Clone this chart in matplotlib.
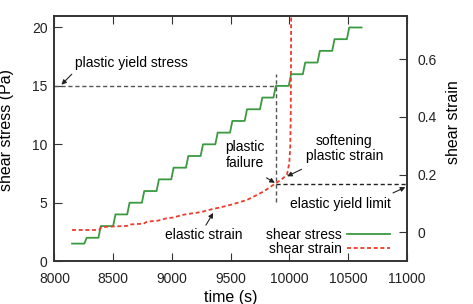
import numpy as np
import matplotlib
matplotlib.use('Agg')
import matplotlib.pyplot as plt

plt.rcParams['font.family'] = ['Liberation Sans', 'DejaVu Sans']
plt.rcParams['font.size'] = 10

# shear stress: staircase (levels and the times at which each rise starts)
stress_start = 8150
stress_end = 10615
stress_levels = [1.5, 2, 3, 4, 5, 6, 7, 8, 9, 10, 11, 12, 13, 14, 15, 16, 17, 18, 19, 20]
rise_times = [8255, 8375, 8500, 8620, 8745, 8870, 8995, 9120, 9245, 9370, 9495,
              9620, 9750, 9865, 9995, 10115, 10240, 10365, 10490]
ramp = 20

# shear strain
strain_t = [8150, 8380, 8400, 8500, 8620, 8640, 8760, 8790, 8880, 8960, 9010, 9090,
            9130, 9250, 9350, 9400, 9500, 9640, 9780, 9885, 9940, 9980, 10000,
            10008, 10012, 10014, 10016]
strain_v = [0.008, 0.008, 0.018, 0.020, 0.022, 0.027, 0.030, 0.037, 0.040, 0.049,
            0.051, 0.060, 0.063, 0.070, 0.081, 0.085, 0.095, 0.112, 0.141, 0.170,
            0.185, 0.200, 0.240, 0.300, 0.400, 0.550, 0.800]

yield_stress = 15
failure_time = 9885
yield_strain = 0.167

# build staircase path
st_x = [stress_start]
st_y = [stress_levels[0]]
for i, t in enumerate(rise_times):
    st_x += [t, t + ramp]
    st_y += [stress_levels[i], stress_levels[i + 1]]
st_x.append(stress_end)
st_y.append(stress_levels[-1])

fig = plt.figure(figsize=(4.73, 3.04), dpi=100)
ax = fig.add_axes([0.115, 0.141, 0.745, 0.807])
ax2 = ax.twinx()

green = '#3a9a3f'
red = '#ee3b2b'
gray = '#555555'

ax.plot(st_x, st_y, color=green, lw=1.3, label='shear stress')
ax2.plot(strain_t, strain_v, color=red, lw=1.3, dashes=(2.2, 1.5), label='shear strain')

ax.plot([8000, failure_time], [yield_stress, yield_stress], color=gray, lw=1, dashes=(3, 2))
ax.plot([failure_time, failure_time], [5.1, 16.0], color=gray, lw=1, dashes=(3, 2))
ax2.plot([failure_time, 11000], [yield_strain, yield_strain], color='#222222', lw=1, dashes=(3, 2))

ax.set_xlim(8000, 11000)
ax.set_ylim(0, 21)
ax2.set_ylim(-0.1, 0.75)
ax.set_xticks(np.arange(8000, 11001, 500))
ax.set_yticks([0, 5, 10, 15, 20])
ax2.set_yticks([0, 0.2, 0.4, 0.6])
ax2.set_yticklabels(['0', '0.2', '0.4', '0.6'])

ax.tick_params(direction='in', length=6, top=True, right=False, colors='#333333',
               labelcolor='#222222', pad=5)
ax.tick_params(axis='x', pad=8)
ax2.tick_params(direction='in', length=6, colors='#333333', labelcolor='#222222', pad=8)
for a in (ax, ax2):
    for s in a.spines.values():
        s.set_color('#333333')
        s.set_linewidth(1.2)

ax.set_xlabel('time (s)', fontsize=11.5, labelpad=3)
ax.set_ylabel('shear stress (Pa)', fontsize=11.5)
ax2.set_ylabel('shear strain', fontsize=11.5)
ax.yaxis.set_label_coords(-0.115, 0.534)
ax2.yaxis.set_label_coords(1.112, 0.567)

arw = dict(arrowstyle='-|>', color='#222222', lw=0.8, mutation_scale=7, shrinkA=0, shrinkB=0)
ax.text(8177, 17.0, 'plastic yield stress', va='center', ha='left')
ax.annotate('', xy=(8060, 15.1), xytext=(8148, 16.0), arrowprops=arw)
ax.text(9622, 9.1, 'plastic\nfailure', ha='center', va='center', linespacing=1.15)
ax.annotate('', xy=(9877, 6.70), xytext=(9806, 7.13), arrowprops=arw)
ax.text(10469, 9.63, 'softening\nplastic strain', ha='center', va='center', linespacing=1.15)
ax.annotate('', xy=(9981, 7.26), xytext=(10104, 7.86), arrowprops=arw)
ax.text(10437, 4.87, 'elastic yield limit', ha='center', va='center')
ax.annotate('', xy=(10988, 6.33), xytext=(10883, 5.84), arrowprops=arw)
ax.text(9273, 2.22, 'elastic strain', ha='center', va='center')
ax.annotate('', xy=(9352, 4.13), xytext=(9290, 3.08), arrowprops=arw)

h1, l1 = ax.get_legend_handles_labels()
h2, l2 = ax2.get_legend_handles_labels()
ax2.legend(h1 + h2, l1 + l2, loc='lower right', bbox_to_anchor=(0.953, 0.02),
           frameon=False, markerfirst=False, handlelength=3.1, handletextpad=0.4,
           labelspacing=0.05, borderpad=0, borderaxespad=0, fontsize=10)

fig.savefig('out.png', dpi=100)
